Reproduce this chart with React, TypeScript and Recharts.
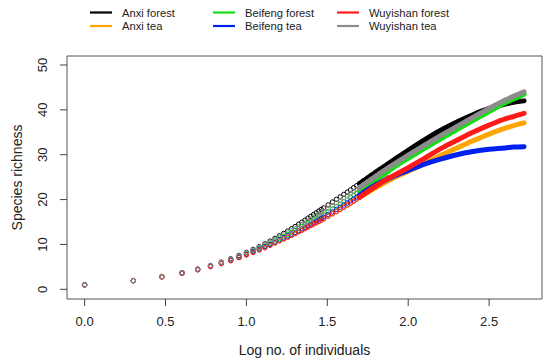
import React from "react";
import { ScatterChart, Scatter, XAxis, YAxis, ReferenceArea } from "recharts";

// sample sizes (individuals) at which the rarefied circles are read
const circleCounts = [
  1,2,3,4,5,6,7,8,9,10,
  11,12,13,14,15,16,17,18,19,20,
  21,22,23,24,25,26,27,28,29,30,
  32,34,36,38,40,42,44,46,48,50,
  53,56,59,63,67,71,75,
];
// sample sizes for the dense (solid-looking) part of the curves
const lineCounts = [50,63,79,100,126,158,200,251,316,398,447,520];

const seriesNames = ["Anxi forest","Anxi tea","Beifeng forest","Beifeng tea","Wuyishan forest","Wuyishan tea"];
const seriesColors = ["#000000","#FFA500","#10E010","#0020F0","#FF1A1A","#8C8C8C"];

const anxiForestPts = [
  1.0,1.95,2.85,3.7,4.5,5.3,6.05,6.8,7.55,8.25,
  8.9,9.5,10.15,10.75,11.35,11.9,12.45,13.0,13.5,14.0,
  14.5,14.95,15.4,15.85,16.25,16.65,17.05,17.45,17.8,18.15,
  18.8,19.45,20.05,20.6,21.15,21.65,22.15,22.65,23.1,23.55,
  24.2,24.8,25.4,26.1,26.75,27.35,27.9,
];
const anxiForestLine = [23.55,26.1,28.5,31.0,33.3,35.4,37.3,38.9,40.3,41.3,41.7,42.0];

const anxiTeaPts = [
  1,1.92,2.78,3.6,4.38,5.1,5.8,6.45,7.1,7.7,
  8.3,8.85,9.4,9.9,10.4,10.85,11.3,11.75,12.15,12.55,
  12.95,13.3,13.65,14.0,14.35,14.65,14.95,15.25,15.55,15.85,
  16.4,16.95,17.45,17.95,18.4,18.85,19.3,19.7,20.1,20.5,
  21.05,21.6,22.1,22.7,23.25,23.75,24.2,
];
const anxiTeaLine = [20.5,22.7,24.6,26.3,28.0,29.8,31.5,33.1,34.6,35.9,36.5,37.1];

const beifengForestPts = [
  1,1.93,2.8,3.65,4.45,5.2,5.9,6.6,7.3,7.95,
  8.55,9.15,9.7,10.25,10.8,11.3,11.8,12.25,12.7,13.15,
  13.55,13.95,14.35,14.75,15.1,15.45,15.8,16.15,16.45,16.75,
  17.35,17.95,18.5,19.05,19.55,20.05,20.55,21.0,21.45,21.9,
  22.55,23.15,23.7,24.4,25.05,25.65,26.2,
];
const beifengForestLine = [21.9,24.4,26.9,29.2,31.4,33.5,35.6,37.6,39.6,41.6,42.4,43.5];

const beifengTeaPts = [
  1,1.92,2.78,3.6,4.4,5.15,5.85,6.5,7.15,7.8,
  8.4,8.95,9.5,10.0,10.5,11.0,11.45,11.9,12.3,12.7,
  13.1,13.5,13.85,14.2,14.55,14.9,15.2,15.5,15.8,16.1,
  16.7,17.25,17.8,18.3,18.8,19.25,19.7,20.15,20.55,20.95,
  21.55,22.1,22.6,23.25,23.8,24.3,24.75,
];
const beifengTeaLine = [20.95,23.25,25.0,26.5,27.9,29.0,30.0,30.7,31.2,31.5,31.7,31.8];

const wuyishanForestPts = [
  1,1.9,2.75,3.55,4.32,5.05,5.72,6.36,7.05,7.65,
  8.2,8.75,9.25,9.8,10.3,10.8,11.2,11.6,12.0,12.4,
  12.8,13.15,13.5,13.85,14.2,14.5,14.8,15.1,15.4,15.7,
  16.25,16.8,17.3,17.8,18.3,18.75,19.2,19.65,20.1,20.5,
  21.15,21.75,22.3,23.0,23.65,24.25,24.8,
];
const wuyishanForestLine = [20.5,23.0,25.1,27.1,29.2,31.3,33.2,35.0,36.6,38.0,38.5,39.2];

const wuyishanTeaPts = [
  1.0,1.95,2.85,3.7,4.5,5.3,6.0,6.75,7.45,8.15,
  8.75,9.35,9.95,10.5,11.05,11.6,12.1,12.6,13.05,13.5,
  13.95,14.4,14.8,15.2,15.6,16.0,16.35,16.7,17.05,17.4,
  18.05,18.65,19.25,19.8,20.35,20.85,21.35,21.8,22.25,22.7,
  23.35,23.95,24.5,25.2,25.85,26.45,27.0,
];
const wuyishanTeaLine = [22.7,25.2,27.6,29.9,32.1,34.2,36.3,38.3,40.3,42.2,43.0,44.0];

const seriesPts = [anxiForestPts, anxiTeaPts, beifengForestPts, beifengTeaPts, wuyishanForestPts, wuyishanTeaPts];
const seriesLine = [anxiForestLine, anxiTeaLine, beifengForestLine, beifengTeaLine, wuyishanForestLine, wuyishanTeaLine];

const xTicks = [0, 0.5, 1.0, 1.5, 2.0, 2.5];
const yTicks = [0, 10, 20, 30, 40, 50];
const X_DOMAIN: [number, number] = [-0.109, 2.827];
const Y_DOMAIN: [number, number] = [-2.16, 52];

const FONT = "'Liberation Sans', Arial, sans-serif";

const toRows = (counts: number[], vals: number[]) =>
  counts.map((n, i) => ({ x: Math.log10(n), y: vals[i] }));

const XTick = (props: any) => (
  <text x={props.x} y={326} textAnchor="middle" fontSize={13} fontFamily={FONT} fill="#222">
    {Number(props.payload.value).toFixed(1)}
  </text>
);

const YTick = (props: any) => (
  <text x={47.5} y={props.y} transform={`rotate(-90 47.5 ${props.y})`} textAnchor="middle" fontSize={13} fontFamily={FONT} fill="#222">
    {props.payload.value}
  </text>
);

const Legend = () => {
  const cols = [90, 213, 337];
  const rows = [12.5, 26];
  return (
    <svg width={550} height={40} style={{ position: "absolute", left: 0, top: 0 }}>
      {seriesNames.map((name, i) => {
        const c = Math.floor(i / 2);
        const r = i % 2;
        return (
          <g key={name}>
            <line x1={cols[c]} x2={cols[c] + 22} y1={rows[r]} y2={rows[r]} stroke={seriesColors[i]} strokeWidth={2.2} />
            <text x={cols[c] + 32} y={rows[r] + 4} fontSize={11.2} fontFamily={FONT} fill="#222">{name}</text>
          </g>
        );
      })}
    </svg>
  );
};

export default function App() {
  return (
    <div style={{ position: "absolute", left: 0, top: 0, width: 550, height: 363, background: "#fff" }}>
      <ScatterChart width={550} height={363} margin={{ top: 56, right: 8, bottom: 0, left: 0 }}>
        <XAxis
          type="number"
          dataKey="x"
          domain={X_DOMAIN}
          ticks={xTicks}
          allowDataOverflow
          height={64}
          axisLine={false}
          tickSize={7}
          tickLine={{ stroke: "#444" }}
          tick={<XTick />}
          label={() => (
            <text x={304.5} y={355} textAnchor="middle" fontSize={14} fontFamily={FONT} fill="#222">Log no. of individuals</text>
          )}
        />
        <YAxis
          type="number"
          dataKey="y"
          domain={Y_DOMAIN}
          ticks={yTicks}
          allowDataOverflow
          width={67}
          axisLine={false}
          tickSize={7}
          tickLine={{ stroke: "#444" }}
          tick={<YTick />}
          label={() => (
            <text x={22} y={177.5} transform="rotate(-90 22 177.5)" textAnchor="middle" fontSize={14} fontFamily={FONT} fill="#222">Species richness</text>
          )}
        />
        <ReferenceArea x1={X_DOMAIN[0]} x2={X_DOMAIN[1]} y1={Y_DOMAIN[0]} y2={Y_DOMAIN[1]} fill="none" stroke="#555" strokeWidth={1} ifOverflow="visible" />
        {seriesNames.map((name, i) => [
          <Scatter
            key={name + "-line"}
            data={toRows(lineCounts, seriesLine[i])}
            fill={seriesColors[i]}
            line={{ stroke: seriesColors[i], strokeWidth: 5, strokeLinecap: "round" }}
            lineJointType="monotoneX"
            shape={() => <g />}
            isAnimationActive={false}
          />,
          <Scatter
            key={name + "-pts"}
            data={toRows(circleCounts, seriesPts[i])}
            fill={seriesColors[i]}
            shape={(p: any) => <circle cx={p.cx} cy={p.cy} r={2.2} fill="none" stroke={seriesColors[i]} strokeWidth={1} />}
            isAnimationActive={false}
          />,
        ])}
      </ScatterChart>
      <Legend />
    </div>
  );
}
